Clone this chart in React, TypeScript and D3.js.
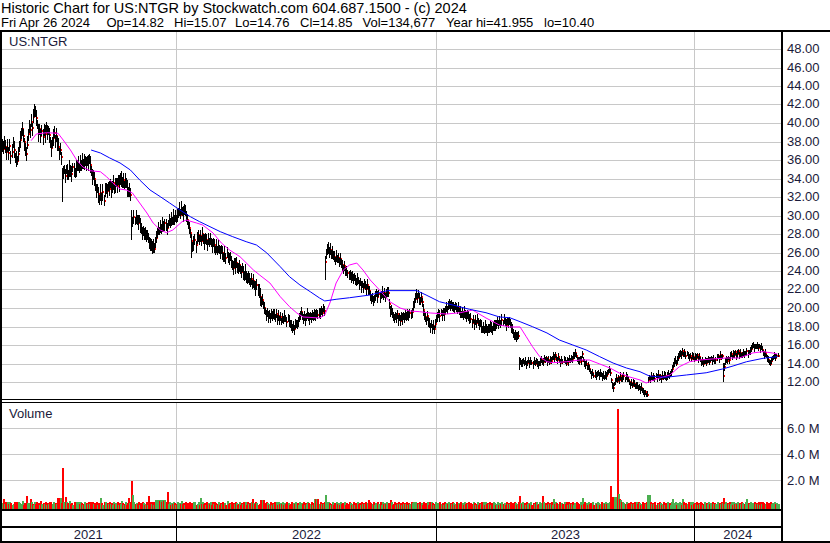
import React from 'react';
import * as d3 from 'd3';

const W = 830;
const H = 543;

// daily closes, May 4 2021 .. Apr 26 2024
const CLOSES = `
37.6 37.2 38.0 37.4 36.9
37.3 36.8 37.5 36.4 36.9 37.8 37.1 36.3
36.2 35.9 36.6 37.4
38.2 38.9 39.3 38.6
37.9 37.0 36.7 37.6
38.8 39.6 39.2 40.1 39.5 40.6
41.4 41.2 40.5
39.8 38.9 39.4 38.6 39.1 38.5
39.3 38.8 39.5 38.9 39.2 38.7
37.9 37.3 37.8
38.4 38.9 38.2 38.6 37.9
37.4 36.8 37.1 36.3
34.2
34.6 34.9 34.3 35.0 34.7 34.4 35.1 34.8 34.5 35.2 34.9 34.6 35.0 35.3
35.6 35.2 35.8 35.4 35.9 35.5
35.7 36.0 35.6 35.9 35.7 36.0 35.5
34.8 34.2 34.5 33.9
33.2 32.6 32.9 32.3 31.8 32.4
31.9 32.5 31.6 32.8 33.0
32.7 33.2 32.9 33.4 32.8 33.1 33.5 32.9 33.3 33.6 33.2
33.8 33.4 33.9 34.0 33.6 33.8 33.3 33.7 33.5
32.9 32.4 32.7 32.2
28.9
29.3 29.8 29.4 29.9 29.5 29.2 29.6 29.0
28.6 28.1 28.4 27.8 28.2 27.7 28.0 27.5
27.1 26.7 27.0 26.5 26.9 26.4 27.2 27.6
28.1 28.6 28.3 28.8 28.5 29.0 28.7 29.2 28.9 28.6
29.1 29.5 29.2 29.6 29.4 29.8 29.5 29.9 29.6 30.0
30.3 30.6 30.1 30.8 30.5 30.2 30.7 30.4 30.0
29.5 29.0 28.6 28.1
27.2 26.6 26.9 27.3 26.8 27.5 27.9 27.4
27.8 27.2 28.0 27.5 27.1 27.6 27.3 26.9 27.4 27.0 27.5 27.1 26.7 27.0
26.8 26.3 26.6 26.2 26.7 26.4 26.0 26.3
25.9 25.5 25.8 25.4 25.9 25.6 25.2 25.5
25.0 24.7 24.3 24.8 24.5 24.9 24.4 24.1 24.6 24.2 23.9 24.3
23.8 23.5 23.9 23.4 23.1 23.5 23.0 22.7 23.1 22.6 22.9 22.4 22.1 22.5 22.0 21.8
21.2 20.6 20.9 20.3 20.0
19.6 19.2 19.5 19.0 19.3 18.9 19.4 19.1 19.5 19.2
19.0 19.3 18.8 19.1 18.7 19.0 18.6 18.9 18.7 19.1 18.8 18.5 18.9 18.6 18.3
18.1 17.8 18.0 17.7 18.2 18.4 18.1
18.6 18.9 19.3 19.6 19.2 18.8 19.1 18.7 19.0 19.4 19.1 18.8
19.2 18.9 19.3 19.0 19.4 19.1 19.5 19.2 19.6 19.3
19.8 19.5 20.0 19.7
25.0
25.8 26.2 26.5 25.9 26.3 25.7 26.0 25.6
25.5 25.1 25.6 25.2 25.4 24.9 25.3 24.8
24.6 24.2 24.5 24.1 23.9
23.8 23.4 23.7 23.2 23.5 23.1 23.4 23.0 22.8 23.1
22.9 22.5 22.8 22.3 22.6 22.2 22.7 22.4 22.1 22.5 22.0 21.8
21.4 20.9 21.2 20.7 21.0
21.3 21.6 21.2 21.5 21.1 21.4 21.7 21.3 21.6 21.2 21.5 21.8 21.6
20.4 19.7 19.9 19.4
19.1 18.8 19.2 18.9 19.3 18.7 19.0 18.6 19.1 18.8 19.2 18.9 19.3 19.0
19.4 19.1 19.5 19.2 19.6 20.1 20.6 21.0
21.4 21.1 21.5 21.0 20.7 21.2 20.6
19.8 19.2 19.0 18.7 19.1 18.6 18.3
17.9 18.2 17.8 18.1 17.7 18.3 18.8
19.0 19.4 19.1 19.5 19.2 19.6 19.3 19.8 20.1 19.9
20.2 20.5 20.1 20.4 20.0
20.2 19.9 20.3 20.0 19.8 20.1 19.7
19.6 19.3 19.5 19.2 19.6 19.3 19.0 19.4 19.1 18.9
18.8 18.4 18.7 18.3 18.6 18.4 18.8 18.5 18.2 18.4
18.0 17.7 17.9 17.6 18.0 17.8 17.5 17.9 17.7 18.1 17.8 17.6 17.9 18.2 18.0 18.3
18.5 18.2 18.6 18.3 18.7 18.4 18.8 18.5 18.2 18.6 18.4 18.7 18.3 18.0 17.6
17.3 16.9 17.2 16.8 17.1 17.0
14.0
14.2 13.9 14.1 14.3 14.0 14.2 13.9 14.1 14.3 14.0 14.2 14.1 13.9 14.2 14.0 14.3 14.1 13.8 14.0 14.2 14.4 14.1
14.2 14.5 14.3 14.6 14.2 14.4 14.1 14.5 14.3 14.6
14.8 14.5 14.9 14.6 14.4 14.7 14.3
14.1 14.4 14.2 14.5 14.3 14.0 14.4 14.2 14.5 14.3 14.6 14.4 14.7
14.9 15.1 14.8 14.5
14.4 14.2 14.5 14.3 15.0
14.4 14.1 13.8 14.0 13.6 13.8 13.4
13.1 12.8 13.0 12.7 12.9 12.6 12.8 13.0 12.7 12.9
12.8 12.6 12.7 12.5 12.8 12.6 12.9
13.2 13.4 13.0
12.2 11.7 11.4 11.8 12.1
12.4 12.1 12.5 12.2 12.6 12.3 12.5
12.6 12.3 12.7 12.4 12.2
12.0 11.7 11.9 11.6 12.0 11.8 11.5 11.7
11.6 11.3 11.5 11.2 11.4 11.1
11.0 10.7 10.9 10.5 10.6
12.2 12.5 12.3 12.6 12.4
12.6 12.3 12.7 12.5 12.8 12.4 12.6 12.3 12.7 12.5 12.8 12.6 12.4 12.7
12.8 12.6 12.9 13.1 13.4
13.8 14.1 14.3 14.0 14.4 14.6 14.9
15.1 14.9 15.3 15.0 15.2 14.8 15.1
14.9 14.6 14.8 14.5 14.9 14.7 14.4 14.8 14.6 14.9 14.5 14.7
14.4 14.1 14.3 14.0 14.2 14.4 14.1
14.3 14.5 14.2 14.4 14.6 14.3 14.5 14.2 14.4 14.6
14.8 14.5 14.9 14.6 14.8
12.6
13.6 14.2 14.5 14.3 14.6 14.4
14.8 15.0 14.7 15.1 14.9 15.2 14.8 15.0 15.3 14.9 15.1 14.8 15.0 15.2 14.9 15.1 15.3 15.0 15.2 15.4
15.6 15.8 16.0 15.7 15.9 15.8 16.0 15.7 15.9 15.6 15.8 15.5
15.2 14.9 15.1 14.8 14.6
14.4 14.1 14.0 14.3 14.5
14.7 14.9 14.6 14.8 14.85
`.trim().split(/\s+/).map(Number);

// daily high above close / low below close, in dimes (base-36 digit per day)
const HI_OFF = [
  '6857496758', '6947586958', '7486957685', '9668594768', '5968475869',
  '7586947597', '5748596847', '5968475869', '4758695847', '6857495867',
  '5748596857', '4859685748', '59687g5746', '5847564857', '4658475647',
  '5647586475', '4657485647', '5867485746', '5647586475', '4657485647',
  '5647564857', '4657485647', '5647586475', '4657485647', '5647586579',
  '5646454645', '4536354645', '3546454635', '4546364535', '3556454635',
  '4546354645', '4565766756', '5646554645', '4536354655', '3546454635',
  '4546354645', '3546454635', '4546554645', '3545464635', '4546354646',
  '6546454645', '3546454635', '4546354645', '3546464535', '4536354645',
  '3546454635', '4546354645', '3546454635', '4546354645', '3546454635',
  '6343234323', '3423432342', '3423432342', '3424532342', '3423432342',
  '3453432343', '5323432342', '3423432342', '3423432342', '3423432342',
  '3423432342', '3423432342', '3423432342', '3423432342', '3423432343',
  '4534543432', '3423432342', '3423432342', '3423432342', '3423432e43',
  '3423432342', '3423432342', '3423443423', '3423432342', '3423432342',
  '2',
].join('');

const LO_OFF = [
  '7586947586', '5869475867', '6958476859', '6758496758', '6957486958',
  '58694758r6', '4758596847', '5847695847', '6758495867', '5749687957',
  '6857496758', '5748596847', '58476f5748', '5748576485', '6475869475',
  '5746574857', '4657485647', '5647586475', '465h574857', '5647586475',
  '4657485647', '5647586475', '4657485647', '5647586475', '4657485679',
  '4546354645', '5464536454', '4546354645', '5464536454', '4546354645',
  '5464536454', '45j5464536', '4546354645', '5464536454', '4546354645',
  '5464536454', '4546354645', '5464566454', '4546354645', '5464536454',
  '4546354645', '5464536454', '4546354645', '5464536454', '4546354645',
  '5464536454', '4546354645', '5464536454', '4546354645', '5464536453',
  '7324323432', '4324323432', '4324323432', '4324323432', '4324323432',
  '4324323432', '4324323432', '4324323432', '4324323433', '4424323432',
  '4324323432', '4324323432', '4321232432', '4324323432', '4324323432',
  '4324323432', '4324323432', '4324323432', '4324323432', '4324323643',
  '4324323432', '4324323432', '4324323432', '4324323432', '4322323432',
  '1',
].join('');

// daily volume in units of 60,000 shares (base-36 digit per day)
const VOL_UNIT = 6e4;
const VOL_UNITS = [
  '4a35263542', '3526354237', '243d424a53', '2635342734', '3524365235',
  '243bb5b405', '6c54373425', '3526354235', '2435362534', '35243b4265',
  '2436342534', '3524374236', '24b450e534', '3524364235', '2d35362588',
  '6878687860', '3524354236', '2437342534', '3524356235', '2b35342634',
  '3526354235', '2435342734', '3524364235', '2435352534', '35a4354238',
  '8884354235', '2435362534', '3524354235', '2436342534', '3524354236',
  '2499993534', '35f6454235', '2435342634', '3524354235', '2436342534',
  '3524854235', '2435362534', '3524385235', '2435342634', '3524354635',
  '2435342534', '3526354235', '2435342534', '3524364235', '2435342534',
  '3524354236', '2435362534', '3524354235', '2435342634', '3524354235',
  'd435342534', '3524356235', '24d5342534', '352a354235', '2435362534',
  '3524354235', '2b35342634', '3524354235', '2435342506', 'cccc40ga86',
  '5435342534', '3526354235', '2435fff534', '3524364235', '24353425a4',
  '35243542a5', '2435362534', '3524354235', '2436342534', '3524354b35',
  '2435362534', '3524354235', '9435342534', '3526354235', '2435342534',
  '3',
].join('');

// the tall volume days, [day index, millions]
const VOL_SPIKES: [number, number][] = [
  [58, 2.95], [125, 1.92], [159, 1.08], [588, 1.56], [595, 7.46],
];

// moving averages as drawn, [day index, price]
const MA_SHORT: [number, number][] = [
  [28, 38.09], [33, 38.81], [43, 38.95], [54, 38.89], [59, 38.16], [66, 37.08], [72, 36.0],
  [78, 35.24], [85, 34.84], [95, 34.73], [101, 34.19], [107, 33.51], [114, 32.86], [120, 32.76],
  [126, 32.43], [133, 31.35], [140, 30.27], [146, 29.19], [153, 28.43], [159, 28.14], [165, 28.43],
  [174, 29.33], [178, 29.51], [188, 29.19], [194, 28.97], [204, 28.11], [212, 27.03], [220, 26.27],
  [230, 25.55], [243, 24.11], [249, 23.57], [259, 22.7], [269, 21.22], [278, 20.14], [285, 19.46],
  [291, 19.03], [307, 18.92], [312, 19.24], [317, 20.54], [323, 22.7], [330, 24.11], [336, 24.65],
  [343, 24.86], [349, 24.11], [356, 23.03], [365, 21.95], [375, 20.68], [385, 20.0], [394, 19.68],
  [404, 19.6], [414, 19.46], [430, 19.35], [443, 19.49], [455, 19.78], [468, 18.92], [481, 18.16],
  [491, 17.95], [501, 17.95], [507, 16.89], [513, 15.82], [520, 14.74], [527, 14.19], [533, 14.09],
  [546, 14.19], [559, 14.38], [568, 14.38], [578, 13.95], [588, 13.51], [597, 12.97], [607, 12.54],
  [617, 12.22], [623, 11.89], [626, 12.03], [636, 12.43], [646, 12.76], [655, 13.65], [665, 14.19],
  [675, 14.38], [687, 14.49], [700, 14.59], [713, 14.59], [726, 15.14], [736, 15.28], [745, 15.14],
  [750, 15.03],
];

const MA_LONG: [number, number][] = [
  [86, 37.08], [95, 36.76], [104, 36.22], [114, 35.68], [124, 34.92], [133, 33.84], [143, 32.76],
  [153, 32.03], [162, 31.35], [172, 30.59], [182, 29.87], [191, 29.33], [201, 28.79], [211, 28.25],
  [223, 27.71], [236, 27.17], [246, 26.81], [256, 25.95], [269, 24.46], [278, 23.38], [288, 22.49],
  [298, 21.76], [307, 21.08], [312, 20.76], [323, 20.94], [336, 21.11], [356, 21.41], [373, 21.88],
  [401, 21.88], [410, 21.41], [423, 20.68], [436, 20.32], [452, 19.86], [468, 19.49], [481, 19.03],
  [491, 18.95], [501, 18.52], [513, 17.98], [527, 17.3], [539, 16.54], [552, 16.0], [565, 15.46],
  [578, 14.74], [591, 14.05], [604, 13.51], [617, 13.11], [626, 12.65], [642, 12.51], [662, 12.76],
  [681, 13.0], [697, 13.41], [707, 13.73], [720, 14.19], [736, 14.56], [750, 14.74],
];

const HOLIDAYS = [
  '2021-05-31', '2021-07-05', '2021-09-06', '2021-11-25', '2021-12-24',
  '2022-01-17', '2022-02-21', '2022-04-15', '2022-05-30', '2022-06-20', '2022-07-04',
  '2022-09-05', '2022-11-24', '2022-12-26',
  '2023-01-02', '2023-01-16', '2023-02-20', '2023-04-07', '2023-05-29', '2023-06-19',
  '2023-07-04', '2023-09-04', '2023-11-23', '2023-12-25',
  '2024-01-01', '2024-01-15', '2024-02-19', '2024-03-29',
];

const PRICE_TICKS = d3.range(12, 49, 2);
const VOL_TICKS = [2e6, 4e6, 6e6];

const TITLE = 'Historic Chart for US:NTGR by Stockwatch.com 604.687.1500 - (c) 2024';
// quote line items and where each one starts
const QUOTE: [string, number][] = [
  ['Fri Apr 26 2024', 1], ['Op=14.82', 106.5], ['Hi=15.07', 174], ['Lo=14.76', 235],
  ['Cl=14.85', 300], ['Vol=134,677', 362.5], ['Year hi=41.955', 446], ['lo=10.40', 544],
];

const FONT = '"Liberation Sans", Arial, sans-serif';
const TXT = '#1a1a3a';
const GRID = '#c8c8c8';
const UP = '#4caf50';
const DOWN = '#ff0000';

export default function App() {
  const n = CLOSES.length;
  const fmt = d3.timeFormat('%Y-%m-%d');
  const days = d3.timeDay
    .range(new Date(2021, 4, 4), new Date(2024, 3, 27))
    .filter(d => d.getDay() !== 0 && d.getDay() !== 6 && !HOLIDAYS.includes(fmt(d)));

  const axisX = 781;
  const x = d3.scaleLinear().domain([0, n - 1]).range([2.2, 777.5]);
  const y = d3.scaleLinear().domain([12, 48]).range([382, 49]);
  const yv = d3.scaleLinear().domain([0, 6e6]).range([506.3, 428.3]);

  const spikes = new Map(VOL_SPIKES);
  const bars = CLOSES.map((c, i) => ({
    i,
    c,
    hi: c + parseInt(HI_OFF[i] ?? '2', 36) / 10,
    lo: c - parseInt(LO_OFF[i] ?? '2', 36) / 10,
    vol: spikes.has(i) ? (spikes.get(i) as number) * 1e6 : parseInt(VOL_UNITS[i] ?? '3', 36) * VOL_UNIT,
    dir: i === 0 ? 1 : Math.sign(c - CLOSES[i - 1]),
  }));

  const yearStarts = days
    .map((d, i) => ({ d, i }))
    .filter(o => o.i > 0 && o.i < n && o.d.getFullYear() !== days[o.i - 1].getFullYear());
  const bx = yearStarts.map(o => Math.round(x(o.i) - 0.5) + 0.5);
  const edges = [0, ...bx, axisX];
  const years = [days[0].getFullYear(), ...yearStarts.map(o => o.d.getFullYear())];

  const line = d3.line<[number, number]>().x(d => x(d[0])).y(d => y(d[1]));

  return (
    <svg
      width={W}
      height={H}
      style={{ position: 'absolute', left: 0, top: 0, background: '#fff' }}
      fontFamily={FONT}
      fontSize={13}
    >
      <rect x={0} y={0} width={W} height={H} fill="#fff" />

      {/* grid */}
      <g stroke={GRID} strokeWidth={1} shapeRendering="crispEdges">
        {PRICE_TICKS.map(t => (
          <line key={'p' + t} x1={2} x2={axisX} y1={Math.round(y(t)) + 0.5} y2={Math.round(y(t)) + 0.5} />
        ))}
        {VOL_TICKS.map(t => (
          <line key={'v' + t} x1={2} x2={axisX} y1={Math.round(yv(t)) + 0.5} y2={Math.round(yv(t)) + 0.5} />
        ))}
        {bx.map(v => (
          <g key={'g' + v}>
            <line x1={v} x2={v} y1={32} y2={399} />
            <line x1={v} x2={v} y1={403} y2={509} />
          </g>
        ))}
      </g>

      {/* price bars, close tick in red just right of the bar */}
      <g shapeRendering="crispEdges">
        {bars.map(b => {
          const px = Math.round(x(b.i));
          const top = Math.floor(y(b.hi));
          const bot = Math.ceil(y(b.lo));
          return (
            <g key={b.i}>
              <rect x={px} y={top} width={1} height={Math.max(1, bot - top)} fill="#000" />
              <rect x={px + 1} y={Math.round(y(b.c)) - 1} width={1} height={2} fill={DOWN} />
            </g>
          );
        })}
      </g>

      <path d={line(MA_SHORT) ?? ''} fill="none" stroke="#ff00ff" strokeWidth={1} />
      <path d={line(MA_LONG) ?? ''} fill="none" stroke="#0000ff" strokeWidth={1} />

      {/* volume */}
      <g shapeRendering="crispEdges">
        {bars.map(b => {
          const top = Math.round(yv(b.vol));
          return (
            <rect
              key={'vb' + b.i}
              x={Math.round(x(b.i))}
              y={top}
              width={2}
              height={509 - top}
              fill={b.dir > 0 ? UP : b.dir < 0 ? DOWN : '#a0a0a0'}
            />
          );
        })}
      </g>

      {/* frame */}
      <g fill="#000" shapeRendering="crispEdges">
        <rect x={0} y={30} width={W} height={2} />
        <rect x={0} y={30} width={2} height={H - 30} />
        <rect x={axisX} y={30} width={2} height={H - 30} />
        <rect x={0} y={399} width={axisX} height={1} />
        <rect x={0} y={402} width={axisX} height={1} />
        <rect x={0} y={509} width={axisX} height={2} />
        <rect x={0} y={526} width={axisX} height={2} />
        <rect x={0} y={541} width={W} height={2} />
        {bx.map(v => (
          <rect key={'s' + v} x={v - 0.5} y={511} width={1} height={30} />
        ))}
      </g>

      {/* text */}
      <g fill={TXT}>
        <text x={1} y={13} fill="#000" fontSize={14.5}>{TITLE}</text>
        <text y={27} fill="#000">
          {QUOTE.map(([s, qx]) => (
            <tspan key={s} x={qx}>{s}</tspan>
          ))}
        </text>
        <text x={9} y={46}>US:NTGR</text>
        <text x={9} y={418}>Volume</text>
        {PRICE_TICKS.map(t => (
          <text key={'pl' + t} x={787} y={Math.round(y(t)) + 3.5}>{t.toFixed(2)}</text>
        ))}
        {VOL_TICKS.map(t => (
          <text key={'vl' + t} x={787} y={Math.round(yv(t)) + 4.5}>{(t / 1e6).toFixed(1) + ' M'}</text>
        ))}
        {years.map((yr, k) => (
          <text key={'y' + yr} x={(edges[k] + edges[k + 1]) / 2} y={539} textAnchor="middle">{yr}</text>
        ))}
      </g>
    </svg>
  );
}
